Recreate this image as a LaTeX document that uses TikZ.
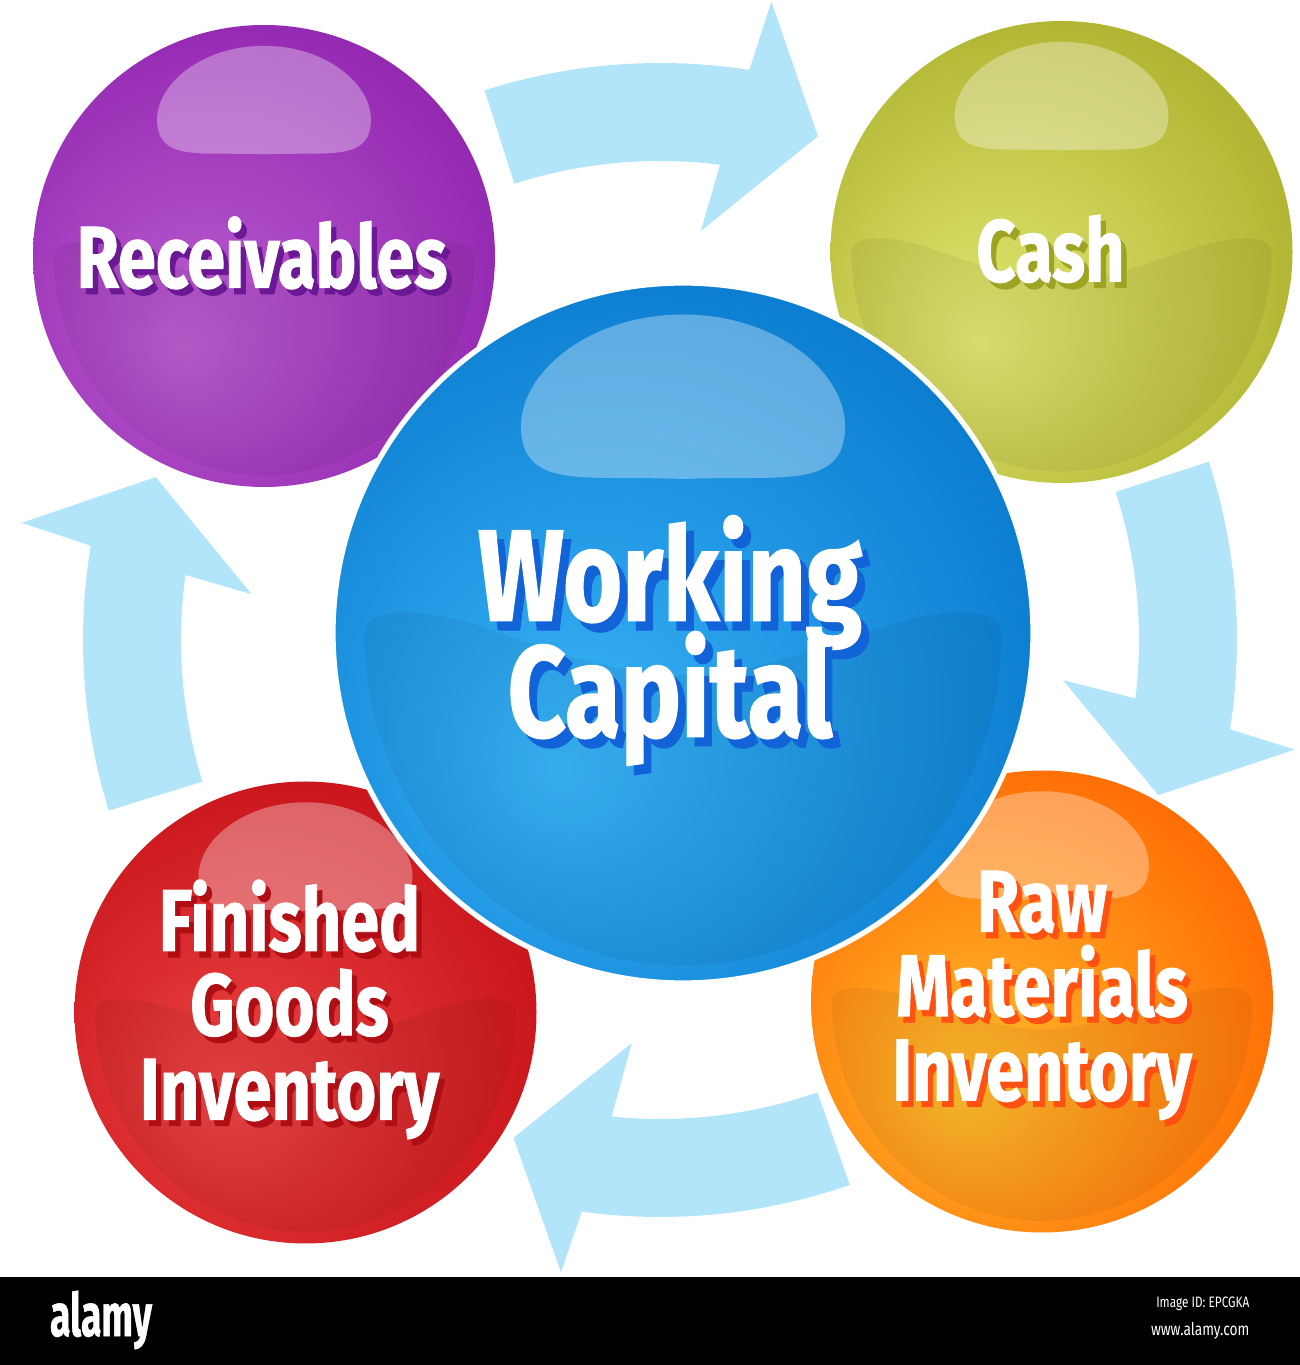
\documentclass[tikz,border=0pt]{standalone}
\usepackage{fontspec}
\usepackage{graphicx}
\newfontfamily\ballfont{Fira Sans}[FakeStretch=0.78, BoldFeatures={FakeBold=1}]
\definecolor{flowblue}{HTML}{B3E5FA}
\definecolor{purplein}{HTML}{BC5ED1}
\definecolor{purpleout}{HTML}{8F22AE}
\definecolor{purpleshadow}{HTML}{6A1894}
\definecolor{olivein}{HTML}{E2E873}
\definecolor{oliveout}{HTML}{ABAE2A}
\definecolor{oliveshadow}{HTML}{9DA424}
\definecolor{bluein}{HTML}{3AB6F9}
\definecolor{blueout}{HTML}{0676CB}
\definecolor{blueshadow}{HTML}{1262D8}
\definecolor{redin}{HTML}{EC4545}
\definecolor{redout}{HTML}{C50F16}
\definecolor{redshadow}{HTML}{B00E15}
\definecolor{orangein}{HTML}{FFBE2E}
\definecolor{orangeout}{HTML}{FF6400}
\definecolor{orangeshadow}{HTML}{FF5212}
\pgfdeclareradialshading{purpleshade}{\pgfpoint{-9bp}{-10bp}}{color(0bp)=(purplein); color(34bp)=(purpleout); color(50bp)=(purpleout)}
\pgfdeclareradialshading{oliveshade}{\pgfpoint{-9bp}{-10bp}}{color(0bp)=(olivein); color(34bp)=(oliveout); color(50bp)=(oliveout)}
\pgfdeclareradialshading{blueshade}{\pgfpoint{-9bp}{-10bp}}{color(0bp)=(bluein); color(34bp)=(blueout); color(50bp)=(blueout)}
\pgfdeclareradialshading{redshade}{\pgfpoint{-9bp}{-10bp}}{color(0bp)=(redin); color(34bp)=(redout); color(50bp)=(redout)}
\pgfdeclareradialshading{orangeshade}{\pgfpoint{-9bp}{-10bp}}{color(0bp)=(orangein); color(34bp)=(orangeout); color(50bp)=(orangeout)}
\newcommand{\shadowed}[2]{\rlap{\kern0.06em\raisebox{-0.07em}{\textcolor{#1}{#2}}}#2}
\tikzset{gloss/.pic={
  % lower bowl
  \fill[black, fill opacity=0.05] (-0.91,0) .. controls (-0.90,0.07) and (-0.78,0.08) .. (-0.58,0.02) .. controls (-0.35,-0.06) and (-0.18,-0.12) .. (0,-0.12) .. controls (0.18,-0.12) and (0.35,-0.06) .. (0.58,0.02) .. controls (0.78,0.08) and (0.90,0.07) .. (0.91,0) arc[start angle=0, end angle=-180, x radius=0.91, y radius=0.95] -- cycle;
  % top highlight
  \fill[white, fill opacity=0.33] (0,0.44) .. controls (-0.25,0.45) and (-0.40,0.42) .. (-0.45,0.52) .. controls (-0.52,0.70) and (-0.30,0.91) .. (0,0.91) .. controls (0.30,0.91) and (0.52,0.70) .. (0.45,0.52) .. controls (0.40,0.42) and (0.25,0.45) .. (0,0.44) -- cycle;
}}
\tikzstyle{flow} = [fill=flowblue]
\tikzstyle{ball} = [circle, inner sep=0pt, shade]
\tikzstyle{smallball} = [ball, minimum size=4.62cm,
path picture={\pic[scale=2.31] at (path picture bounding box.center) {gloss};}]
\tikzstyle{bigball} = [ball, minimum size=7cm, draw=white, line width=1.5pt,
path picture={\pic[scale=3.5] at (path picture bounding box.center) {gloss};}]
\tikzstyle{smalltext} = [text=white, align=center, inner sep=0pt,
font={\ballfont\bfseries\fontsize{25}{24}\selectfont\lineskiplimit=-100pt\lineskip=0pt}]
\tikzstyle{bigtext} = [text=white, align=center, inner sep=0pt,
font={\ballfont\bfseries\fontsize{37}{33}\selectfont\lineskiplimit=-100pt\lineskip=0pt}]
\tikzstyle{barlabel} = [text=white, font={\ballfont\fontsize{5}{6}\selectfont}, anchor=east, inner sep=0pt]

\begin{document}
\begin{tikzpicture}
\useasboundingbox (0,0) rectangle (13,13.65);

% ------------------------- cycle arrows -------------------------
\coordinate (ring) at (6.60,7.25);
\begin{scope}[shift={(ring)}]
\fill[flow] (107.7:5.77) arc[start angle=107.7, end angle=81.1, radius=5.77] -- (80.1:6.48) -- (72.6:5.28) -- (84.3:4.11) -- (82.8:4.79) arc[start angle=82.8, end angle=107.7, radius=4.79] -- cycle;
\fill[flow] (18:5.77) arc[start angle=18, end angle=-8.9, radius=5.77] -- (-9.8:6.44) -- (-17.3:5.22) -- (-5.7:4.05) -- (-7.0:4.79) arc[start angle=-7.0, end angle=18, radius=4.79] -- cycle;
\fill[flow] (-70.8:5.77) arc[start angle=-70.8, end angle=-97.8, radius=5.77] -- (-98.9:6.40) -- (-106.4:5.19) -- (-94:4.04) -- (-95.8:4.79) arc[start angle=-95.8, end angle=-70.8, radius=4.79] -- cycle;
\fill[flow] (197.2:5.77) arc[start angle=197.2, end angle=170.6, radius=5.77] -- (169.6:6.49) -- (162.1:5.30) -- (173.6:4.11) -- (172.2:4.79) arc[start angle=172.2, end angle=197.2, radius=4.79] -- cycle;
\end{scope}

% ------------------------- balls -------------------------
\node (rec)[smallball, shading=purpleshade, label={[smalltext, xshift=-0.02cm]center:\shadowed{purpleshadow}{Receivables}}] at (2.64,11.09) {};
\node (cash)[smallball, shading=oliveshade, label={[smalltext, xshift=-0.11cm]center:\shadowed{oliveshadow}{Cash}}] at (10.615,11.13) {};
\node (fin)[smallball, shading=redshade, label={[smalltext, xshift=-0.16cm]center:{\shadowed{redshadow}{Finished}\\\shadowed{redshadow}{Goods}\\\shadowed{redshadow}{Inventory}}}] at (3.055,3.525) {};
\node (raw)[smallball, shading=orangeshade, label={[smalltext, yshift=0.03cm]center:{\shadowed{orangeshadow}{Raw}\\\shadowed{orangeshadow}{Materials}\\\shadowed{orangeshadow}{Inventory}}}] at (10.42,3.635) {};
\node (wc)[bigball, shading=blueshade, label={[bigtext, xshift=-0.13cm, yshift=-0.12cm]center:{\shadowed{blueshadow}{Working}\\\shadowed{blueshadow}{Capital}}}] at (6.83,7.32) {};

% ------------------------- footer -------------------------
\fill[black] (0,0) rectangle (13,0.88);
\node (logo)[text=white, font={\ballfont\bfseries\fontsize{17}{17}\selectfont}] at (1.01,0.45) {\scalebox{0.8}[1]{alamy}};
\node (imageid)[barlabel, font={\ballfont\fontsize{4.3}{5}\selectfont}] at (12.50,0.61) {Image ID: EPCGKA};
\node (web)[barlabel] at (12.50,0.34) {www.alamy.com};
\end{tikzpicture}
\end{document}
